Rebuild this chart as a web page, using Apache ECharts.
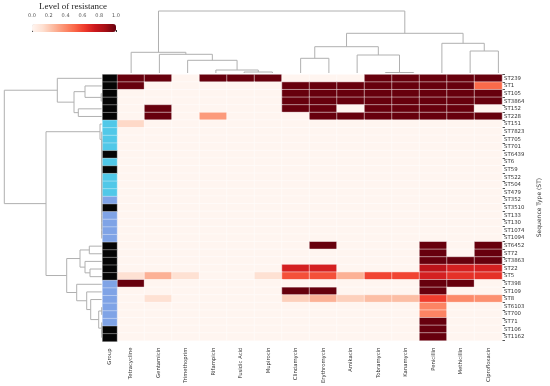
<!DOCTYPE html>
<html>
<head>
<meta charset="utf-8">
<script src="https://cdn.jsdelivr.net/npm/echarts@6/dist/echarts.min.js"></script>
<style>html,body{margin:0;padding:0;background:#fff}#c{width:550px;height:386px}</style>
</head>
<body>
<div id="c"></div>
<script>
// ---- data ----
var antibiotics = ['Tetracycline','Gentamicin','Trimethoprim','Rifampicin','Fusidic Acid','Mupirocin','Clindamycin','Erythromycin','Amikacin','Tobramycin','Kanamycin','Penicillin','Methicillin','Ciprofloxacin'];
var sequenceTypes = ['ST239','ST1','ST105','ST3864','ST152','ST228','ST151','ST7823','ST705','ST701','ST6439','ST6','ST59','ST522','ST504','ST479','ST352','ST3510','ST133','ST130','ST1074','ST1094','ST6452','ST72','ST3863','ST22','ST5','ST398','ST109','ST8','ST6103','ST700','ST71','ST106','ST1162'];
// group of each ST (0 = black, 1 = cyan, 2 = blue)
var groups = [0,0,0,0,0,0,1,1,1,1,0,1,0,1,1,1,2,0,2,2,2,2,0,0,0,0,0,2,2,2,2,2,2,0,0];
var Z = [0,0,0,0,0,0,0,0,0,0,0,0,0,0];
var resistance = [
  [1,1,0,1,1,1,0,0,0,1,1,1,1,1],
  [1,0,0,0,0,0,1,1,1,1,1,1,1,0.5],
  [0,0,0,0,0,0,1,1,1,1,1,1,1,1],
  [0,0,0,0,0,0,1,1,1,1,1,1,1,1],
  [0,1,0,0,0,0,1,1,0,1,1,1,1,0],
  [0,1,0,0.35,0,0,0,1,1,1,1,1,1,1],
  [0.15,0,0,0,0,0,0,0,0,0,0,0,0,0],
  Z,Z,Z,Z,Z,Z,Z,Z,Z,Z,Z,Z,Z,Z,Z,
  [0,0,0,0,0,0,0,1,0,0,0,1,0,1],
  [0,0,0,0,0,0,0,0,0,0,0,1,0,1],
  [0,0,0,0,0,0,0,0,0,0,0,1,1,1],
  [0,0,0,0,0,0,0.72,0.72,0,0,0,0.8,0.72,0.72],
  [0.12,0.28,0.12,0,0,0.12,0.57,0.57,0.28,0.6,0.6,0.72,0.66,0.66],
  [1,0,0,0,0,0,0,0,0,0,0,1,1,0],
  [0,0,0,0,0,0,1,1,0,0,0,1,0,0],
  [0,0.12,0,0,0,0,0.18,0.28,0.18,0.24,0.24,0.62,0.4,0.38],
  [0,0,0,0,0,0,0,0,0,0,0,0.42,0,0],
  [0,0,0,0,0,0,0,0,0,0,0,0.42,0,0],
  [0,0,0,0,0,0,0,0,0,0,0,1,0,0],
  [0,0,0,0,0,0,0,0,0,0,0,1,0,0],
  [0,0,0,0,0,0,0,0,0,0,0,1,0,0]
];
// column linkage: [childA, childB, height]  (leaves 0..13, merges 14..)
var colLinkage = [
  [4,5,0.1],[9,10,0.05],[3,14,0.3],[2,16,1.27],[1,17,1.87],[0,18,2.07],
  [6,7,1.47],[8,15,1.8],[20,21,2.63],[12,13,2.2],[11,23,2.97],[22,24,3.97],[19,25,6.2]
];
// row linkage (leaves 0..34, merges 35..)
var rowLinkage = [
  [2,3,0.05],[1,35,1.67],[4,5,2.34],[36,37,2.77],[0,38,4.44],
  [20,21,0],[19,40,0],[18,41,0],[17,42,0],[16,43,0],[15,44,0],[14,45,0],[13,46,0],[12,47,0],[11,48,0],[10,49,0],[9,50,0],[8,51,0],[7,52,0],[6,53,0.17],
  [22,23,1.24],[25,26,1.17],[24,56,1.67],[55,57,2.17],
  [30,31,0],[33,34,0],[32,60,0],[59,61,0.3],[29,62,1.1],[28,63,1.5],[27,64,2.5],[58,65,3.5],
  [54,66,5.57],[39,67,9.74]
];
var legendTicks = [0,0.2,0.4,0.6,0.8,1.0];

// ---- build ----
var reds = ['#fff5f0','#fee0d2','#fcbba1','#fc9272','#fb6a4a','#ef3b2c','#cb181d','#a50f15','#67000d'];
var heat = [];
resistance.forEach(function(row, r){ row.forEach(function(v, c){ heat.push([c, r, v]); }); });
var groupData = groups.map(function(g, r){ return [0, r, g]; });

function dendro(link, n, horizontal){
  var pos = [], hh = [], out = [];
  for (var i = 0; i < n; i++){ pos.push(i + 0.5); hh.push(0); }
  link.forEach(function(l){
    var a = l[0], b = l[1], h = l[2];
    var pts = [[pos[a], hh[a]], [pos[a], h], [pos[b], h], [pos[b], hh[b]]];
    if (horizontal) pts = pts.map(function(p){ return [p[1], p[0]]; });
    out.push({coords: pts});
    pos.push((pos[a] + pos[b]) / 2); hh.push(h);
  });
  return out;
}

var lbl = {fontFamily: 'DejaVu Sans', color: '#333'};
var chart = echarts.init(document.getElementById('c'), null, {renderer: 'canvas'});
chart.setOption({
  animation: false,
  backgroundColor: '#fff',
  title: {text: 'Level of resistance', left: 73, top: 2, padding: 0, textAlign: 'center',
    textStyle: {fontFamily: 'Liberation Serif', fontSize: 9, fontWeight: 'normal', color: '#222'}},
  grid: [
    {left: 117, top: 74.5, width: 395.5, height: 267},
    {left: 102.5, top: 74.5, width: 14.5, height: 267},
    {left: 117, top: 0, width: 395.5, height: 73},
    {left: 0, top: 74.5, width: 101.7, height: 267},
    {left: 32, top: 24, width: 84, height: 8}
  ],
  xAxis: [
    {type: 'category', gridIndex: 0, data: antibiotics, axisLine: {show: false}, axisTick: {show: false}, splitLine: {show: false},
      axisLabel: Object.assign({rotate: 90, interval: 0, fontSize: 5.3, margin: 7}, lbl)},
    {type: 'category', gridIndex: 1, data: ['Group'], axisLine: {show: false}, axisTick: {show: false},
      axisLabel: Object.assign({rotate: 90, interval: 0, fontSize: 5.3, margin: 7}, lbl)},
    {type: 'value', gridIndex: 2, min: 0, max: 14, show: false},
    {type: 'value', gridIndex: 3, min: 0, max: 10.17, inverse: true, show: false},
    {type: 'value', gridIndex: 4, min: 0, max: 1, interval: 0.2, position: 'top',
      axisLine: {show: false}, splitLine: {show: false},
      axisTick: {show: true, length: 2, lineStyle: {color: '#333'}},
      axisLabel: {fontSize: 5, margin: 6, color: '#555', fontFamily: 'DejaVu Sans', formatter: function(v){ return v.toFixed(1); }}}
  ],
  yAxis: [
    {type: 'category', gridIndex: 0, data: sequenceTypes, inverse: true, position: 'right',
      axisLine: {show: false}, axisTick: {show: true, length: 3, lineStyle: {color: '#555'}},
      axisLabel: Object.assign({interval: 0, fontSize: 5.4, margin: 2}, lbl),
      name: 'Sequence Type (ST)', nameLocation: 'middle', nameRotate: 90, nameGap: 34,
      nameTextStyle: {fontFamily: 'DejaVu Sans', fontSize: 6, color: '#333'}},
    {type: 'category', gridIndex: 1, data: sequenceTypes, inverse: true, show: false},
    {type: 'value', gridIndex: 2, min: 0, max: 7.3, show: false},
    {type: 'value', gridIndex: 3, min: 0, max: 35, inverse: true, show: false},
    {type: 'value', gridIndex: 4, min: 0, max: 1, show: false}
  ],
  visualMap: [
    {type: 'continuous', seriesIndex: 0, dimension: 2, min: 0, max: 1, orient: 'horizontal',
      left: 32, top: 24, itemWidth: 8, itemHeight: 84, padding: 0, calculable: false, hoverLink: false,
      text: null, showLabel: false, inRange: {color: reds}},
    {type: 'piecewise', seriesIndex: 1, dimension: 2, show: false,
      pieces: [{value: 0, color: '#050505'}, {value: 1, color: '#50c8e8'}, {value: 2, color: '#7fa3e6'}]}
  ],
  series: [
    {type: 'heatmap', xAxisIndex: 0, yAxisIndex: 0, data: heat,
      itemStyle: {borderColor: 'rgba(255,255,255,0.8)', borderWidth: 0.6}},
    {type: 'heatmap', xAxisIndex: 1, yAxisIndex: 1, data: groupData,
      itemStyle: {borderColor: 'rgba(255,255,255,0.6)', borderWidth: 0.6}},
    {type: 'lines', coordinateSystem: 'cartesian2d', xAxisIndex: 2, yAxisIndex: 2, polyline: true,
      data: dendro(colLinkage, antibiotics.length, false), lineStyle: {color: '#b0b0b0', width: 1, opacity: 1}},
    {type: 'lines', coordinateSystem: 'cartesian2d', xAxisIndex: 3, yAxisIndex: 3, polyline: true,
      data: dendro(rowLinkage, sequenceTypes.length, true), lineStyle: {color: '#b0b0b0', width: 1, opacity: 1}}
  ]
});
</script>
</body>
</html>
